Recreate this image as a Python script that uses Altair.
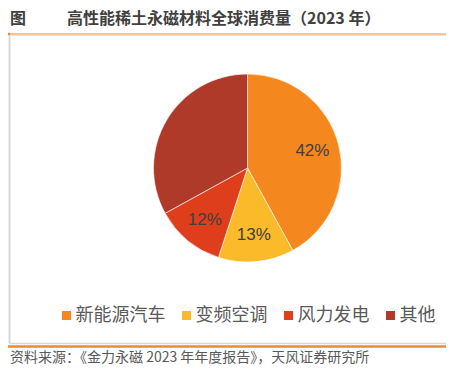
import altair as alt
import pandas as pd

categories = ["新能源汽车", "变频空调", "风力发电", "其他"]
shares = [42, 13, 12, 33]
labels = ["42%", "13%", "12%", ""]
colors = ["#F5871F", "#FBBA2A", "#DE3E1C", "#B03A2A"]

title_prefix = "图"
title_text = "高性能稀土永磁材料全球消费量（2023 年）"
source_text = "资料来源：《金力永磁 2023 年年度报告》，天风证券研究所"

df = pd.DataFrame({
    "category": categories,
    "share": shares,
    "label": labels,
    "order": list(range(len(categories))),
})
dummy = pd.DataFrame({"a": [0]})

W, H = 438, 358
cx, cy, R = 239.5, 160, 94
CJK = "Noto Sans CJK SC"

base = alt.Chart(df).encode(
    theta=alt.Theta("share:Q", stack=True),
    order=alt.Order("order:Q"),
    x=alt.value(cx),
    y=alt.value(cy),
)

pie = base.mark_arc(outerRadius=R, stroke="white", strokeWidth=0.6).encode(
    color=alt.Color(
        "category:N",
        scale=alt.Scale(domain=categories, range=colors),
        sort=categories,
        legend=alt.Legend(
            orient="none", legendX=49.5, legendY=298.5, direction="horizontal",
            title=None, symbolType="square", symbolSize=81, symbolStrokeWidth=0,
            symbolOpacity=1, labelFontSize=18, labelFont=CJK, labelColor="#595959",
            labelOffset=0, columnPadding=12, padding=0,
        ),
    )
)

text = base.mark_text(radius=67, fontSize=17, color="#404040", font="Liberation Sans").encode(
    text="label:N"
)

dec = alt.Chart(dummy)
orange_top = dec.mark_rule(color="#F08A2C", strokeWidth=1).encode(
    x=alt.value(0), x2=alt.value(W), y=alt.value(26))
orange_top_thick = dec.mark_rule(color="#F08A2C", strokeWidth=2.5).encode(
    x=alt.value(0), x2=alt.value(2), y=alt.value(26))
gray_top = dec.mark_rule(color="#E3E3E3", strokeWidth=1).encode(
    x=alt.value(1.5), x2=alt.value(W), y=alt.value(27.5))
gray_left = dec.mark_rule(color="#D9D9D9", strokeWidth=2).encode(
    x=alt.value(1.5), y=alt.value(27), y2=alt.value(335.5))
gray_bottom = dec.mark_rule(color="#D9D9D9", strokeWidth=1.5).encode(
    x=alt.value(1.5), x2=alt.value(W), y=alt.value(335.5))
orange_bottom = dec.mark_rule(color="#F08A2C", strokeWidth=2.5).encode(
    x=alt.value(0), x2=alt.value(W), y=alt.value(338.5))

t1 = dec.mark_text(align="left", baseline="middle", fontSize=16, fontWeight="bold",
                   font=CJK, color="#404040").encode(
    x=alt.value(2), y=alt.value(11), text=alt.value(title_prefix))
t2 = dec.mark_text(align="left", baseline="middle", fontSize=16, fontWeight="bold",
                   font=CJK, color="#404040").encode(
    x=alt.value(59), y=alt.value(11), text=alt.value(title_text))
src = dec.mark_text(align="left", baseline="middle", fontSize=14,
                    font=CJK, color="#595959").encode(
    x=alt.value(2), y=alt.value(350), text=alt.value(source_text))

chart = alt.layer(
    pie, text, orange_top, orange_top_thick, gray_top, gray_left, gray_bottom,
    orange_bottom, t1, t2, src
).properties(
    width=W, height=H, autosize=alt.AutoSizeParams(type="none"), padding=0
).configure_view(stroke=None)

chart.save("out.html", embed_options={"renderer": "svg", "actions": False})
